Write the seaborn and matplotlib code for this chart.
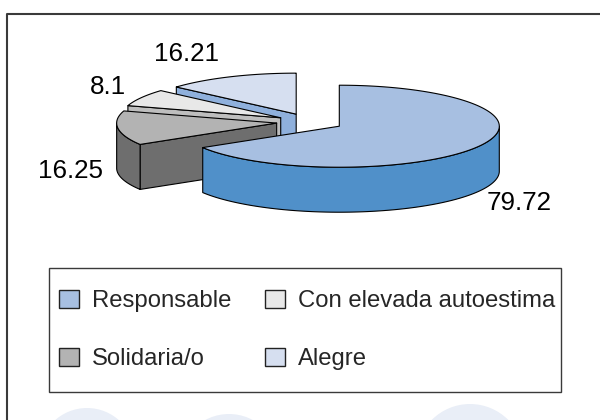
import numpy as np
import matplotlib
matplotlib.use("Agg")
import matplotlib.pyplot as plt
from matplotlib.patches import Polygon, Rectangle, Circle, Patch
import seaborn as sns

# Data
categories = ["Responsable", "Solidaria/o", "Con elevada autoestima", "Alegre"]
values = [79.72, 16.25, 8.1, 16.21]
value_labels = ["79.72", "16.25", "8.1", "16.21"]

# Styling
top_colors = ["#A7BFE1", "#B3B3B3", "#E8E8E8", "#D6DFF0"]
side_colors = ["#5090C9", "#6E6E6E", "#BEBEBE", "#8FB0DC"]
label_xy = [(519, 210), (71, 178), (108, 94), (186, 61)]

sns.set_theme(style="white")
plt.rcParams["font.family"] = ["Liberation Sans", "DejaVu Sans"]

fig = plt.figure(figsize=(6, 4.2), dpi=100)
ax = fig.add_axes([0, 0, 1, 1])
ax.set_xlim(0, 600)
ax.set_ylim(420, 0)
ax.axis("off")

# faint page decoration along the bottom
for (x, y, r) in [(87, 456, 48), (229, 464, 50), (470, 458, 54)]:
    ax.add_patch(Circle((x, y), r, color="#E9EEF7", zorder=0, lw=0))

# outer frame
ax.plot([7, 7, 601], [421, 14, 14], color="#3A3A3A", lw=1.5, zorder=1,
        solid_capstyle="projecting")

# tilted pie geometry (pixel units)
CX, CY = 310, 122
RX, RY = 160, 41
DEPTH = 45
EXPLODE = 0.21
START = 90.0


def rim(c, t):
    t = np.atleast_1d(t)
    return np.column_stack([c[0] + RX * np.cos(t), c[1] - RY * np.sin(t)])


fracs = np.asarray(values) / np.sum(values)
edges = START - 360.0 * np.concatenate([[0.0], np.cumsum(fracs)])
slices = []
for i in range(len(values)):
    hi, lo = np.radians(edges[i]), np.radians(edges[i + 1])
    mid = 0.5 * (hi + lo)
    c = (CX + EXPLODE * RX * np.cos(mid), CY - EXPLODE * RY * np.sin(mid))
    slices.append((i, lo, hi, mid, c))

# paint from the back of the pie toward the viewer
slices.sort(key=lambda s: -np.sin(s[3]))

EC, LW = "black", 0.8
for i, lo, hi, mid, c in slices:
    z = 3 + 3 * [s[0] for s in slices].index(i)
    down = np.array([0, DEPTH])
    # radial cut faces turned toward the viewer
    for t, visible in ((lo, np.cos(lo) > 1e-6), (hi, np.cos(hi) < -1e-6)):
        if visible:
            p = rim(c, t)[0]
            quad = [c, p, p + down, np.array(c) + down]
            ax.add_patch(Polygon(quad, closed=True, fc=side_colors[i], ec=EC,
                                 lw=LW, zorder=z, joinstyle="round"))
    # outer wall on the front half
    ts = np.linspace(lo, hi, 400)
    front = np.sin(ts) <= 0
    if front.any():
        idx = np.flatnonzero(front)
        runs = np.split(idx, np.flatnonzero(np.diff(idx) > 1) + 1)
        for run in runs:
            tt = ts[run]
            upper = rim(c, tt)
            lower = upper + down
            wall = np.vstack([upper, lower[::-1]])
            ax.add_patch(Polygon(wall, closed=True, fc=side_colors[i], ec=EC,
                                 lw=LW, zorder=z + 1, joinstyle="round"))
    # top surface
    top = np.vstack([[c], rim(c, ts)])
    ax.add_patch(Polygon(top, closed=True, fc=top_colors[i], ec=EC, lw=LW,
                         zorder=z + 2, joinstyle="round"))

# value labels
for (x, y), txt in zip(label_xy, value_labels):
    ax.text(x, y, txt, ha="center", va="baseline", fontsize=18.7,
            color="black", zorder=20)

# legend
ax.add_patch(Rectangle((49, 268), 512, 124, fill=False, ec="#3A3A3A", lw=1.0,
                       zorder=5))
handles = [Patch(fc=top_colors[i], ec="#222222", lw=1.0) for i in range(len(categories))]
ax.legend(handles, categories, ncol=2, frameon=False, fontsize=17.2,
          loc="upper left", bbox_to_anchor=(59, 289.5),
          bbox_transform=ax.transData, borderpad=0, borderaxespad=0,
          handlelength=0.83, handleheight=0.83, handletextpad=0.55,
          labelspacing=1.48, columnspacing=1.42)

fig.savefig("out.png", dpi=100)
